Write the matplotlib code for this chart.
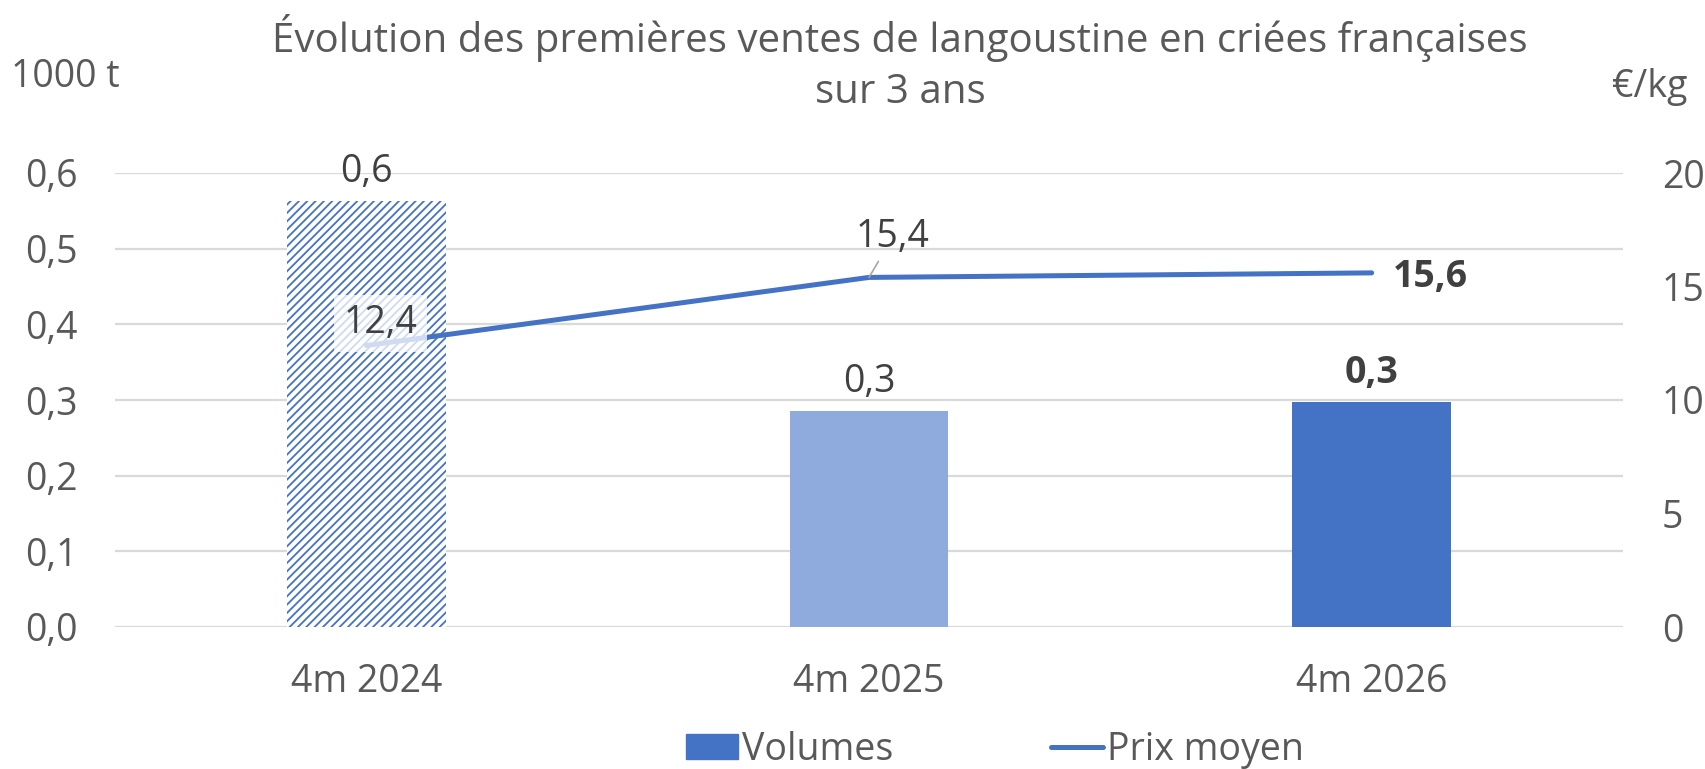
import numpy as np
import matplotlib
matplotlib.use("Agg")
import matplotlib.pyplot as plt

categories = ["4m 2024", "4m 2025", "4m 2026"]
volumes = [0.563, 0.285, 0.297]
volume_labels = ["0,6", "0,3", "0,3"]
prix = [12.4, 15.4, 15.6]
prix_labels = ["12,4", "15,4", "15,6"]

plt.rcParams['font.family'] = ['Open Sans', 'DejaVu Sans']
plt.rcParams['hatch.linewidth'] = 1.3

txt = '#595959'
dark = '#404040'
blue = '#4472C4'
light = '#8FAADC'
fs = 27

fig = plt.figure(figsize=(17.05, 7.69), dpi=100)
ax = fig.add_axes([115/1705, 142/769, 1508/1705, 454/769])
ax2 = ax.twinx()

x = np.arange(len(categories))
w = 0.315
ax.bar(x[0], volumes[0], w, facecolor='white', edgecolor=blue, hatch='////', linewidth=0, zorder=2)
ax.bar(x[1], volumes[1], w, color=light, zorder=2)
ax.bar(x[2], volumes[2], w, color=blue, zorder=2)

for i in range(3):
    ax.annotate(volume_labels[i], (x[i], volumes[i]), xytext=(0, 21), textcoords='offset points',
                ha='center', va='center', fontsize=fs, color=dark,
                fontweight='bold' if i == 2 else 'normal')

ax.set_xlim(-0.5, 2.5)
ax.set_ylim(0, 0.6)
ax.set_yticks(np.arange(0, 0.61, 0.1))
ax.set_yticklabels([f"{v:.1f}".replace('.', ',') for v in np.arange(0, 0.61, 0.1)])
ax.set_xticks(x)
ax.set_xticklabels(categories)
ax.grid(axis='y', color='#d9d9d9', linewidth=1.6, zorder=0)
ax.set_axisbelow(True)

ax2.set_ylim(0, 20)
ax2.set_yticks([0, 5, 10, 15, 20])
ax2.plot(x, prix, color=blue, linewidth=3.6, solid_capstyle='round', zorder=3)

ax2.annotate(prix_labels[0], (x[0], prix[0]), xytext=(10, 16), textcoords='offset points',
             ha='center', va='center', fontsize=fs, color=dark, zorder=6,
             bbox=dict(boxstyle='square,pad=0.25', facecolor='white', edgecolor='none', alpha=0.75))
ax2.annotate(prix_labels[1], (x[1], prix[1]), xytext=(17, 29), textcoords='offset points',
             ha='center', va='center', fontsize=fs, color=dark,
             arrowprops=dict(arrowstyle='-', color='#a6a6a6', lw=1.2, shrinkA=2, shrinkB=0))
ax2.annotate(prix_labels[2], (x[2], prix[2]), xytext=(15, -3), textcoords='offset points',
             ha='left', va='center', fontsize=fs, color=dark, fontweight='bold')

for a in (ax, ax2):
    for s in a.spines.values():
        s.set_visible(False)
    a.tick_params(length=0, labelsize=fs, labelcolor=txt)
ax.tick_params(axis='y', pad=27)
ax.tick_params(axis='x', pad=26)
ax2.tick_params(axis='y', pad=28)

fig.text(900/1705, 1 - 38/769, "Évolution des premières ventes de langoustine en criées françaises",
         ha='center', va='center', fontsize=29, color=txt)
fig.text(900/1705, 1 - 93/769, "sur 3 ans", ha='center', va='center', fontsize=29, color=txt)
fig.text(65/1705, 1 - 77/769, "1000 t", ha='center', va='center', fontsize=fs, color=txt)
fig.text(1650/1705, 1 - 87/769, "€/kg", ha='center', va='center', fontsize=fs, color=txt)

h1 = plt.Rectangle((0, 0), 1, 1, color=blue)
h2 = plt.Line2D([0], [0], color=blue, linewidth=3.6, solid_capstyle='round')
fig.legend([h1, h2], ["Volumes", "Prix moyen"], loc='center', bbox_to_anchor=(995/1705, 1 - 750/769),
           ncol=2, frameon=False, fontsize=fs, labelcolor=txt, handlelength=1.4, handleheight=0.65,
           handletextpad=0.1, columnspacing=4.2)

fig.savefig("out.png", dpi=100)
